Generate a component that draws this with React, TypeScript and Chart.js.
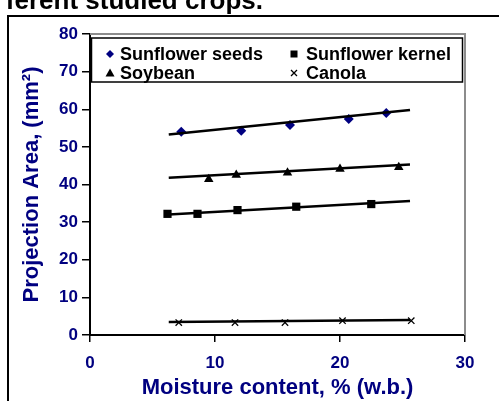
import React, { useEffect, useRef } from "react";
import { Chart, registerables } from "chart.js";

Chart.register(...registerables);

const FONT = "'Liberation Sans', Arial, sans-serif";
const NAVY = "#000080";

const seriesNames = ["Sunflower seeds", "Sunflower kernel", "Soybean", "Canola"];

const seedsX = [7.3, 12.1, 16.0, 20.7, 23.7];
const seedsY = [54.0, 54.3, 55.8, 57.4, 59.0];
const kernelX = [6.2, 8.6, 11.8, 16.5, 22.5];
const kernelY = [32.2, 32.2, 33.2, 34.1, 34.8];
const soyX = [9.5, 11.7, 15.8, 20.0, 24.7];
const soyY = [41.4, 42.5, 43.1, 44.1, 44.6];
const canolaX = [7.1, 11.6, 15.6, 20.2, 25.7];
const canolaY = [3.3, 3.3, 3.3, 3.8, 3.8];

const trendX = [6.3, 25.6];
const seedsTrend = [53.3, 59.8];
const kernelTrend = [32.0, 35.6];
const soyTrend = [41.8, 45.3];
const canolaTrend = [3.45, 4.0];

const xTicks = [0, 10, 20, 30];
const yTicks = [0, 10, 20, 30, 40, 50, 60, 70, 80];

const pts = (xs: number[], ys: number[]) => xs.map((x, i) => ({ x, y: ys[i] }));

function drawMarker(ctx: CanvasRenderingContext2D, style: string, x: number, y: number, r: number, color: string) {
  ctx.save();
  ctx.fillStyle = color;
  ctx.strokeStyle = color;
  ctx.beginPath();
  if (style === "rectRot") {
    ctx.moveTo(x, y - r);
    ctx.lineTo(x + r, y);
    ctx.lineTo(x, y + r);
    ctx.lineTo(x - r, y);
    ctx.closePath();
    ctx.fill();
  } else if (style === "rect") {
    ctx.fillRect(x - r, y - r, 2 * r, 2 * r);
  } else if (style === "triangle") {
    ctx.moveTo(x, y - r);
    ctx.lineTo(x + r, y + r * 0.8);
    ctx.lineTo(x - r, y + r * 0.8);
    ctx.closePath();
    ctx.fill();
  } else {
    ctx.lineWidth = 1.3;
    ctx.moveTo(x - r, y - r);
    ctx.lineTo(x + r, y + r);
    ctx.moveTo(x + r, y - r);
    ctx.lineTo(x - r, y + r);
    ctx.stroke();
  }
  ctx.restore();
}

const framePlugin = {
  id: "frame",
  beforeDraw(chart: any) {
    const ctx = chart.ctx as CanvasRenderingContext2D;
    ctx.save();
    ctx.strokeStyle = "#000";
    ctx.lineWidth = 2;
    ctx.beginPath();
    ctx.moveTo(8, 401);
    ctx.lineTo(8, 16);
    ctx.lineTo(499, 16);
    ctx.stroke();
    ctx.restore();
  },
  beforeDatasetsDraw(chart: any) {
    const ctx = chart.ctx as CanvasRenderingContext2D;
    const { left, right, top, bottom } = chart.chartArea;
    ctx.save();
    ctx.strokeStyle = "#8c8c8c";
    ctx.lineWidth = 2;
    ctx.beginPath();
    ctx.moveTo(left, top);
    ctx.lineTo(right, top);
    ctx.lineTo(right, bottom);
    ctx.stroke();
    ctx.restore();
  },
};

const legendMarkers = [
  { style: "rectRot", r: 4, color: NAVY },
  { style: "rect", r: 3.5, color: "#000" },
  { style: "triangle", r: 4.5, color: "#000" },
  { style: "crossRot", r: 3, color: "#000" },
];

const legendPlugin = {
  id: "boxLegend",
  afterDraw(chart: any) {
    const ctx = chart.ctx as CanvasRenderingContext2D;
    const { left, right, top } = chart.chartArea;
    ctx.save();
    ctx.fillStyle = "#fff";
    ctx.fillRect(left + 1.5, top + 4, right - left - 4, 44);
    ctx.strokeStyle = "#000";
    ctx.lineWidth = 1.5;
    ctx.strokeRect(left + 1.5, top + 4, right - left - 4, 44);
    ctx.font = `bold 18px ${FONT}`;
    ctx.textBaseline = "middle";
    ctx.fillStyle = "#000";
    seriesNames.forEach((name, i) => {
      const col = i % 2;
      const row = Math.floor(i / 2);
      const mx = left + (col === 0 ? 20 : 204);
      const tx = left + (col === 0 ? 30 : 216);
      const y = top + (row === 0 ? 20 : 39);
      const m = legendMarkers[i];
      drawMarker(ctx, m.style, mx, y, m.r, m.color);
      ctx.fillStyle = "#000";
      ctx.textAlign = "left";
      ctx.fillText(name, tx, y + 1);
    });
    ctx.restore();
  },
};

export default function App() {
  const ref = useRef<HTMLCanvasElement>(null);
  useEffect(() => {
    if (!ref.current) return;
    const trendDs = (ys: number[]) => ({
      data: pts(trendX, ys),
      showLine: true,
      borderColor: "#000",
      borderWidth: 2.5,
      pointRadius: 0,
      fill: false,
    });
    const chart = new Chart(ref.current, {
      type: "scatter",
      data: {
        datasets: [
          trendDs(seedsTrend),
          trendDs(kernelTrend),
          trendDs(soyTrend),
          trendDs(canolaTrend),
          {
            label: seriesNames[0],
            data: pts(seedsX, seedsY),
            pointStyle: "rectRot",
            pointRadius: 5,
            backgroundColor: NAVY,
            borderColor: NAVY,
            borderWidth: 0,
          },
          {
            label: seriesNames[1],
            data: pts(kernelX, kernelY),
            pointStyle: "rect",
            pointRadius: 5.8,
            backgroundColor: "#000",
            borderColor: "#000",
            borderWidth: 0,
          },
          {
            label: seriesNames[2],
            data: pts(soyX, soyY),
            pointStyle: "triangle",
            pointRadius: 5.5,
            backgroundColor: "#000",
            borderColor: "#000",
            borderWidth: 0,
          },
          {
            label: seriesNames[3],
            data: pts(canolaX, canolaY),
            pointStyle: "crossRot",
            pointRadius: 4.5,
            backgroundColor: "#000",
            borderColor: "#000",
            borderWidth: 1.3,
          },
        ],
      } as any,
      options: {
        responsive: false,
        animation: false,
        layout: { padding: { top: 34, right: 34, left: 0, bottom: 0 } },
        plugins: { legend: { display: false }, tooltip: { enabled: false } },
        scales: {
          x: {
            type: "linear",
            min: 0,
            max: 30,
            afterBuildTicks: (s: any) => {
              s.ticks = xTicks.map((v) => ({ value: v }));
            },
            afterFit: (s: any) => {
              s.height = 66;
            },
            ticks: {
              color: NAVY,
              font: { family: FONT, size: 17, weight: "bold" },
              padding: 11,
              maxRotation: 0,
            },
            grid: { drawOnChartArea: false, color: "#000", lineWidth: 1.5, tickLength: 7 },
            border: { color: "#000", width: 2 },
            title: {
              display: true,
              text: "Moisture content, % (w.b.)",
              color: NAVY,
              font: { family: FONT, size: 22, weight: "bold" },
              padding: { top: 0, bottom: 0 },
            },
          },
          y: {
            type: "linear",
            min: 0,
            max: 80,
            afterBuildTicks: (s: any) => {
              s.ticks = yTicks.map((v) => ({ value: v }));
            },
            afterFit: (s: any) => {
              s.width = 90;
            },
            ticks: {
              color: NAVY,
              font: { family: FONT, size: 17, weight: "bold" },
              padding: 4,
            },
            grid: { drawOnChartArea: false, color: "#000", lineWidth: 1.5, tickLength: 8 },
            border: { color: "#000", width: 2 },
            title: {
              display: true,
              text: "Projection Area, (mm²)",
              color: NAVY,
              font: { family: FONT, size: 22, weight: "bold" },
              padding: { top: 19, bottom: 0 },
            },
          },
        },
      } as any,
      plugins: [framePlugin, legendPlugin],
    });
    return () => chart.destroy();
  }, []);

  return (
    <div style={{ position: "fixed", left: 0, top: 0, width: 499, height: 401, overflow: "hidden", background: "#fff" }}>
      <canvas ref={ref} width={499} height={401} style={{ position: "absolute", left: 0, top: 0 }} />
      <div
        style={{
          position: "absolute",
          right: 236,
          top: -13,
          whiteSpace: "nowrap",
          font: `bold 26px ${FONT}`,
          lineHeight: "26px",
          color: "#000",
        }}
      >
        ferent studied crops.
      </div>
    </div>
  );
}
